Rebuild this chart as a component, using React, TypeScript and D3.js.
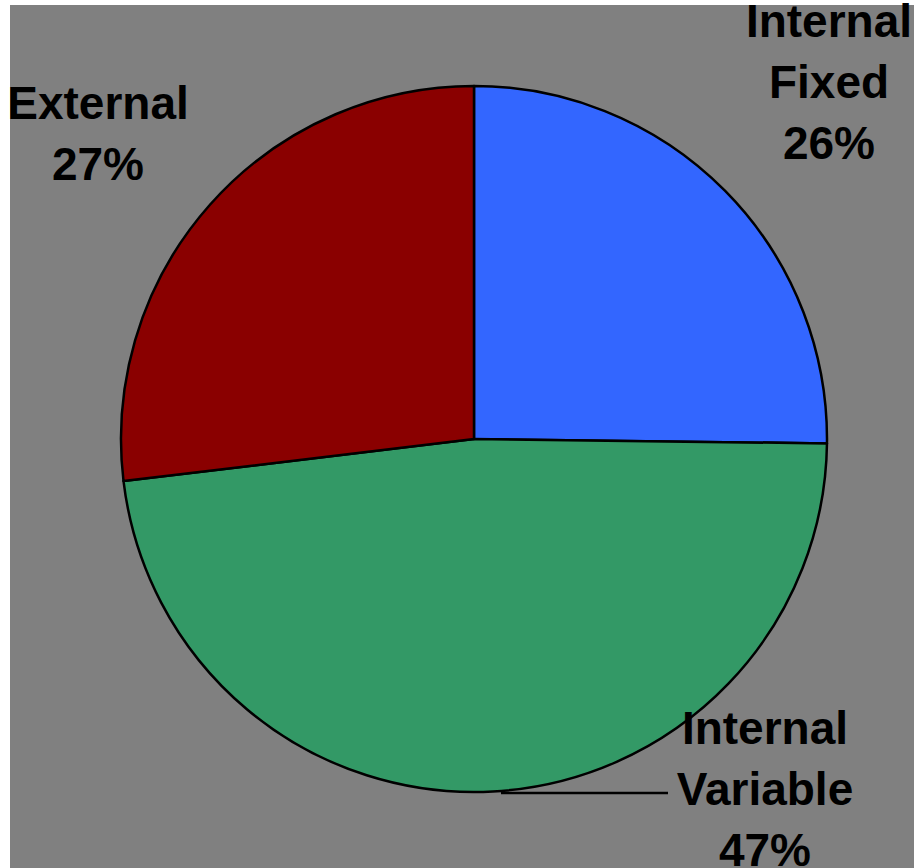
import React from "react";
import * as d3 from "d3";

const categories = ["Internal Fixed", "Internal Variable", "External"];
const sliceShares = [25.2, 47.9, 26.9];
const labelPercents = ["26%", "47%", "27%"];
const labelLines = [["Internal", "Fixed"], ["Internal", "Variable"], ["External"]];
const sliceColors = ["#3366ff", "#339966", "#8a0000"];

const W = 914;
const H = 868;
const cx = 474;
const cy = 439;
const R = 353;

// label anchor positions (center x, first baseline y)
const labelPos = [
  { x: 829, y: 37 },
  { x: 765, y: 744 },
  { x: 98, y: 119 },
];
const lineH = 61;

export default function App() {
  const data = categories.map((c, i) => ({ name: c, value: sliceShares[i], i }));
  const pie = d3
    .pie<any>()
    .sort(null)
    .value((d) => d.value)
    .startAngle(0)
    .endAngle(2 * Math.PI);
  const arcs = pie(data);
  const arc = d3.arc<any>().innerRadius(0).outerRadius(R);

  // leader line for Internal Variable
  const leaderY = 793;
  const xScale = d3.scaleLinear().domain([0, 1]).range([501, 668]);

  return (
    <svg
      width={W}
      height={H}
      style={{ position: "absolute", left: 0, top: 0, display: "block" }}
    >
      <rect x={0} y={0} width={W} height={H} fill="#ffffff" />
      <rect x={10} y={5} width={W - 10} height={H - 5} fill="#808080" />
      <g transform={`translate(${cx},${cy})`}>
        {arcs.map((a, i) => (
          <path
            key={i}
            d={arc(a) as string}
            fill={sliceColors[i]}
            stroke="#000"
            strokeWidth={2.5}
            strokeLinejoin="round"
          />
        ))}
      </g>
      <line
        x1={xScale(0)}
        x2={xScale(1)}
        y1={leaderY}
        y2={leaderY}
        stroke="#000"
        strokeWidth={2.5}
      />
      {categories.map((c, i) => {
        const lines = [...labelLines[i], labelPercents[i]];
        return (
          <text
            key={c}
            x={labelPos[i].x}
            y={labelPos[i].y}
            textAnchor="middle"
            fontFamily="'Liberation Sans', Arial, sans-serif"
            fontWeight="bold"
            fontSize={46}
            fill="#000"
          >
            {lines.map((t, k) => (
              <tspan key={k} x={labelPos[i].x} y={labelPos[i].y + k * lineH}>
                {t}
              </tspan>
            ))}
          </text>
        );
      })}
    </svg>
  );
}
